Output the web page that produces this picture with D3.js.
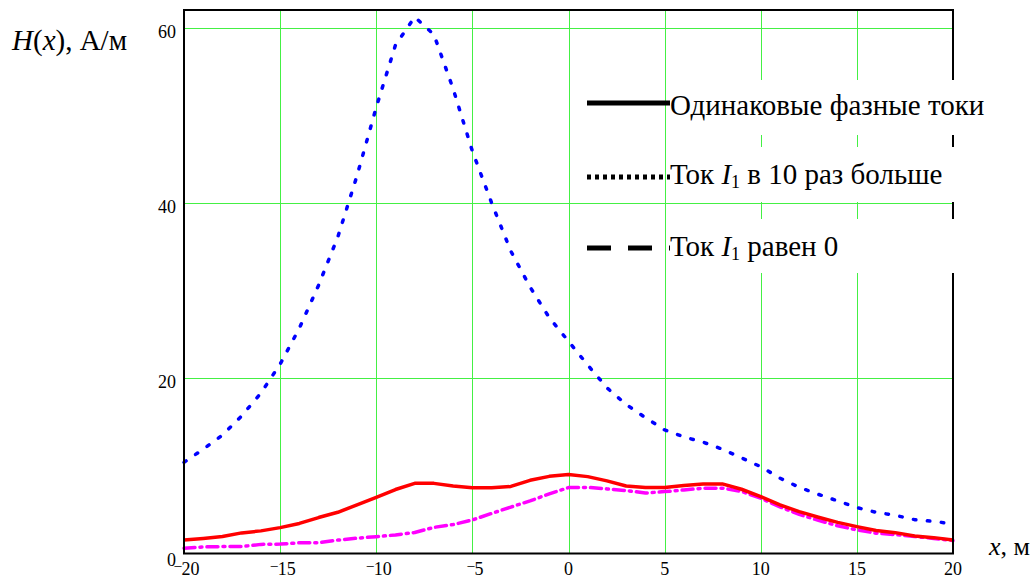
<!DOCTYPE html>
<html>
<head>
<meta charset="utf-8">
<script src="https://cdn.jsdelivr.net/npm/d3@7"></script>
</head>
<body style="margin:0">
<svg id="chart" width="1034" height="579"></svg>
<script>
// distance along the ground, m
const xs = [-20, -19, -18, -17, -16, -15, -14, -13, -12, -11, -10, -9, -8, -7, -6, -5, -4, -3, -2, -1,
  0, 1, 2, 3, 4, 5, 6, 7, 8, 9, 10, 11, 12, 13, 14, 15, 16, 17, 18, 19, 20];

// H(x), A/m
const equalCurrents = [1.55, 1.72, 1.93, 2.35, 2.58, 2.95, 3.43, 4.1, 4.7, 5.55, 6.4, 7.3, 8.0, 8.0, 7.7, 7.5, 7.5, 7.65, 8.35, 8.8,
  9.0, 8.77, 8.28, 7.7, 7.52, 7.52, 7.75, 7.94, 7.94, 7.33, 6.49, 5.54, 4.78, 4.14, 3.55, 3.07, 2.63, 2.38, 2.0, 1.81, 1.55];
const i1TenTimes = [10.4, 11.9, 13.5, 15.7, 18.3, 21.6, 25.7, 30.6, 36.1, 43.1, 50.9, 58.0, 61.2, 59.2, 53.0, 45.9, 40.0, 34.5, 30.4, 26.9,
  24.2, 21.5, 18.9, 17.0, 15.5, 14.1, 13.3, 12.7, 11.9, 10.9, 9.9, 8.6, 7.55, 6.75, 6.0, 5.24, 4.7, 4.35, 3.86, 3.66, 3.38];
const i1Zero = [0.6, 0.75, 0.79, 0.79, 1.04, 1.07, 1.22, 1.24, 1.53, 1.75, 1.92, 2.12, 2.4, 2.98, 3.3, 3.83, 4.57, 5.3, 6.0, 6.8,
  7.52, 7.54, 7.37, 7.18, 6.9, 7.06, 7.25, 7.45, 7.45, 7.08, 6.3, 5.32, 4.46, 3.78, 3.17, 2.69, 2.32, 2.16, 1.94, 1.71, 1.47];

const xTicks = [-20, -15, -10, -5, 0, 5, 10, 15, 20];
const yTicks = [0, 20, 40, 60];

const FONT = '"Liberation Serif", monospace';
const svg = d3.select("#chart");

const x = d3.scaleLinear().domain([-20, 20]).range([184, 953]);
const y = d3.scaleLinear().domain([0, 62]).range([553.5, 10]);

// grid
const grid = svg.append("g").attr("stroke", "#44f044").attr("stroke-width", 1);
grid.selectAll("line.v").data(xTicks.slice(1, -1)).enter().append("line")
  .attr("x1", d => Math.round(x(d)) + 0.5).attr("x2", d => Math.round(x(d)) + 0.5)
  .attr("y1", y.range()[1]).attr("y2", y.range()[0]);
grid.selectAll("line.h").data(yTicks.slice(1)).enter().append("line")
  .attr("y1", d => Math.round(y(d)) + 0.5).attr("y2", d => Math.round(y(d)) + 0.5)
  .attr("x1", x.range()[0]).attr("x2", x.range()[1]);

// curves
const line = d3.line().x(d => x(d[0])).y(d => y(d[1]));
const series = [
  { values: i1TenTimes, color: "#0000ff", dash: "2.5,11.5", cap: "round" },
  { values: i1Zero, color: "#ff00ff", dash: "11,5,2,5", cap: "round" },
  { values: equalCurrents, color: "#ff0000", dash: null, cap: "butt" }
];
svg.append("g").selectAll("path").data(series).enter().append("path")
  .attr("d", s => line(xs.map((v, i) => [v, s.values[i]])))
  .attr("fill", "none")
  .attr("stroke", s => s.color)
  .attr("stroke-width", 3.5)
  .attr("stroke-linecap", s => s.cap)
  .attr("stroke-linejoin", "round")
  .attr("stroke-dasharray", s => s.dash);

// frame
svg.append("rect")
  .attr("x", x.range()[0]).attr("y", y.range()[1])
  .attr("width", x.range()[1] - x.range()[0])
  .attr("height", y.range()[0] - y.range()[1])
  .attr("fill", "none").attr("stroke", "#000").attr("stroke-width", 2);

// tick labels
xTicks.forEach(t => {
  const txt = svg.append("text")
    .style("font-family", FONT).attr("font-size", 18)
    .attr("x", x(t) + (t < 0 ? 3 : 0)).attr("y", 575)
    .attr("text-anchor", "middle");
  if (t < 0) {
    txt.append("tspan").attr("font-size", 14).attr("dy", -5).text("\u2013");
    txt.append("tspan").attr("dy", 5).text(Math.abs(t));
  } else {
    txt.text(t);
  }
});
yTicks.forEach(t => {
  svg.append("text")
    .style("font-family", FONT).attr("font-size", 18)
    .attr("x", 176).attr("y", y(t) + (t === 0 ? 12 : 10))
    .attr("text-anchor", "end")
    .text(t);
});

// axis titles
const yTitle = svg.append("text").style("font-family", FONT)
  .attr("x", 12).attr("y", 50).attr("font-size", 29);
yTitle.append("tspan").attr("font-style", "italic").text("H");
yTitle.append("tspan").text("(");
yTitle.append("tspan").attr("font-style", "italic").text("x");
yTitle.append("tspan").text("), А/м");

const xTitle = svg.append("text").style("font-family", FONT)
  .attr("x", 989).attr("y", 555).attr("font-size", 26);
xTitle.append("tspan").attr("font-style", "italic").text("x");
xTitle.append("tspan").text(", м");

// legend
const legendNames = ["Одинаковые фазные токи", "Ток I1 в 10 раз больше", "Ток I1 равен 0"];
const legendDash = [null, "4,4", "24,17"];
const legendBoxes = [[80, 135], [147, 202], [219, 273]];
const legendLineY = [103, 177, 248];
const legendBase = [115, 184, 256];

legendNames.forEach((name, i) => {
  svg.append("rect").attr("x", 666).attr("y", legendBoxes[i][0])
    .attr("width", 1034 - 666).attr("height", legendBoxes[i][1] - legendBoxes[i][0])
    .attr("fill", "#fff");
  svg.append("line").attr("x1", 587).attr("x2", 670)
    .attr("y1", legendLineY[i]).attr("y2", legendLineY[i])
    .attr("stroke", "#000").attr("stroke-width", 5)
    .attr("stroke-dasharray", legendDash[i]);
  const t = svg.append("text").style("font-family", FONT)
    .attr("x", 670).attr("y", legendBase[i]).attr("font-size", 29);
  const m = name.match(/^(Ток )I1( .*)$/);
  if (m) {
    t.append("tspan").text(m[1]);
    t.append("tspan").attr("font-style", "italic").text("I");
    t.append("tspan").attr("font-size", 18).attr("dy", 4).text("1");
    t.append("tspan").attr("dy", -4).text(m[2]);
  } else {
    t.text(name);
  }
});
</script>
</body>
</html>
